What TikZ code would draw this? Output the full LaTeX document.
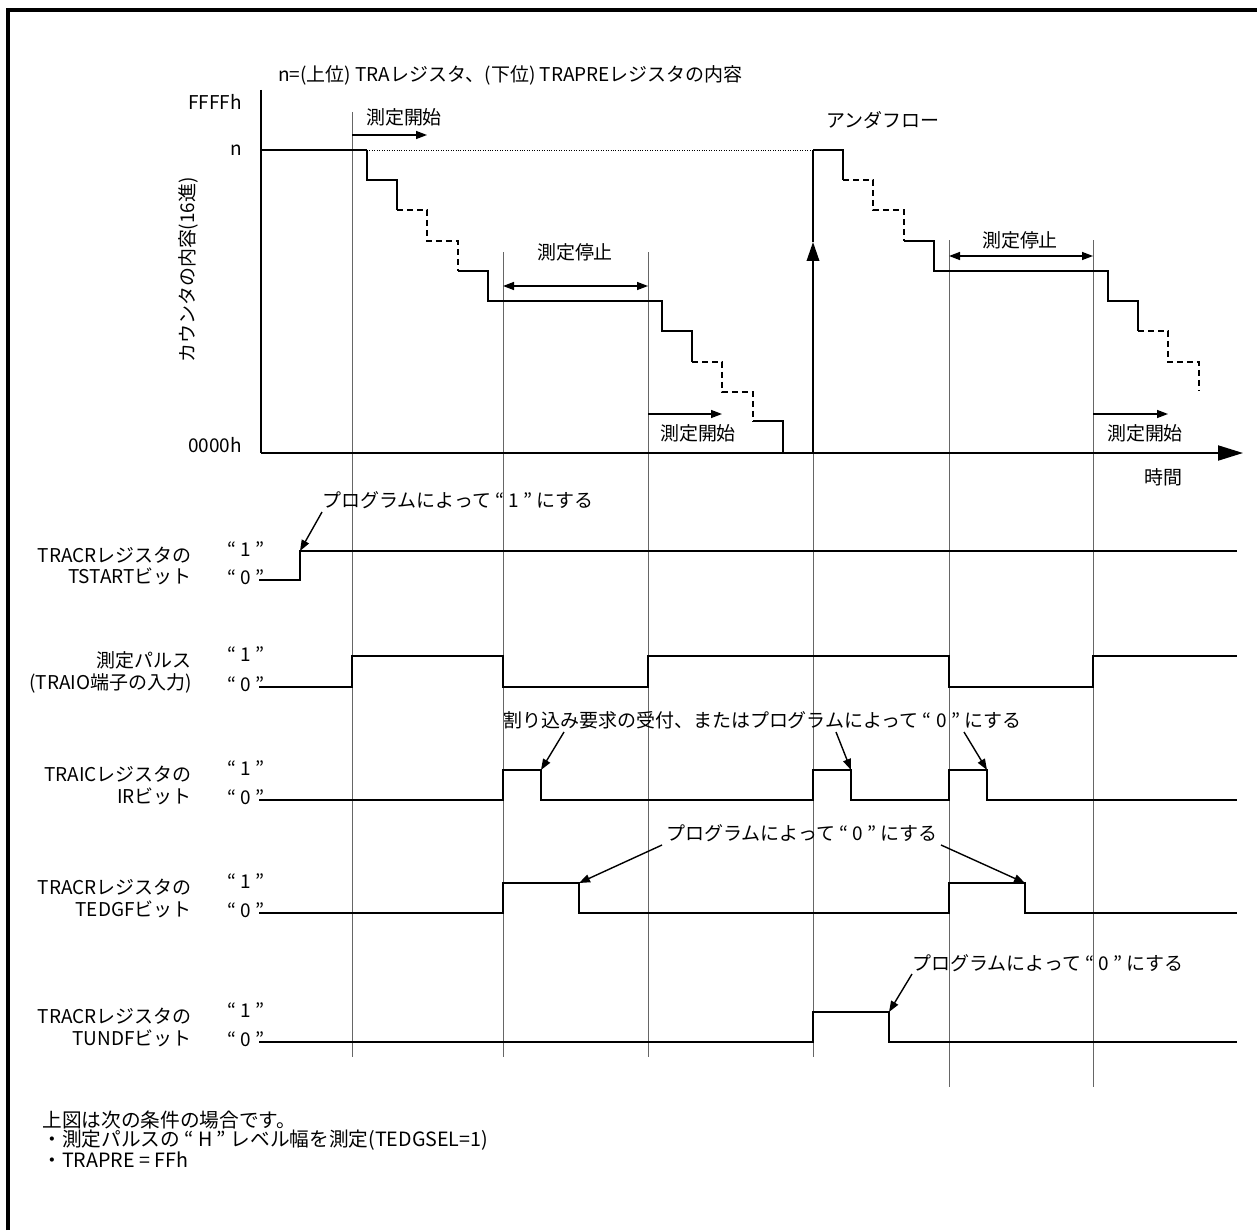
\documentclass[tikz,border=0pt]{standalone}
\usepackage{fontspec}
\setmainfont{Noto Sans CJK JP}
\usetikzlibrary{arrows.meta, calc}
\tikzset{
  lab/.style={inner sep=0pt, font=\fontsize{10.8}{13}\selectfont},
  nlab/.style={lab, anchor=west, font=\fontsize{11.2}{13}\selectfont},
  sig/.style={line width=1.1pt},
  dsig/.style={sig, dash pattern=on 1.2mm off 0.8mm},
  vln/.style={line width=0.55pt, black!60},
  ann/.style={-{Triangle[length=2.2mm, width=1.6mm]}, line width=0.8pt},
  msr/.style={-{Triangle[length=2.2mm, width=1.6mm]}, line width=0.8pt},
  msrb/.style={{Triangle[length=2.2mm, width=1.6mm]}-{Triangle[length=2.2mm, width=1.6mm]}, line width=0.8pt}
}
\newcommand{\lvls}[3]{\node[lab] (#1h) at (246,#2-2) {“ 1 ”}; \node[lab] (#1l) at (246,#3-3) {“ 0 ”};}
\newcommand{\rowlab}[5]{\node[lab, anchor=east] (#1a) at (192,#2+4) {#4}; \node[lab, anchor=east] (#1b) at (192,#3-4) {#5};}

\begin{document}
\begin{tikzpicture}[x=0.02cm, y=-0.02cm]
	\useasboundingbox (0,0) rectangle (1257,1230);
	\draw[line width=1.9pt] (8,1230) -- (8,10) -- (1257,10);

	\node[lab, anchor=west] (ttl) at (278,75) {n=(上位) TRAレジスタ、(下位) TRAPREレジスタの内容};
	\node[lab, anchor=east] (ffff) at (242,102) {FFFFh};
	\node[lab, anchor=east] (nval) at (242,150) {n};
	\node[lab, anchor=east] (zero) at (242,445) {0000h};
	\node[lab, rotate=90] (ylab) at (188,270) {カウンタの内容(16進)};
	\node[lab] (tm) at (1163,477) {時間};
	\node[lab] (unf) at (883,120) {アンダフロー};

	\foreach \x/\a/\b in {352/112/1057, 503/252/1057, 648/252/1057, 813/453/1057, 949/240/1087, 1093/240/1087}
		\draw[vln] (\x,\a) -- (\x,\b);

	\coordinate (org) at (261,453);
	\draw[sig] (261,90) -- (org);
	\draw[sig, -{Triangle[length=5mm, width=3mm]}] (org) -- (1243,453);

	\draw[sig] (261,150) -- (367,150);
	\draw[thin, densely dotted] (367,150) -- (813,150);
	\draw[sig] (367,150) -- (367,180) -- (397,180) -- (397,210);
	\draw[dsig] (397,210) -- (427,210) -- (427,241) -- (458,241) -- (458,271);
	\draw[sig] (458,271) -- (488,271) -- (488,301) -- (662,301) -- (662,331) -- (692,331) -- (692,362);
	\draw[dsig] (692,362) -- (722,362) -- (722,392) -- (753,392) -- (753,421);
	\draw[sig] (753,421) -- (783,421) -- (783,453);

	\draw[sig, -{Triangle[length=3.8mm, width=2.5mm]}] (813,453) -- (813,242);
	\draw[sig] (813,242) -- (813,150);
	\draw[sig] (813,150) -- (843,150) -- (843,180);
	\draw[dsig] (843,180) -- (873,180) -- (873,210) -- (904,210) -- (904,241);
	\draw[sig] (904,241) -- (934,241) -- (934,271) -- (1108,271) -- (1108,301) -- (1138,301) -- (1138,331);
	\draw[dsig] (1138,331) -- (1168,331) -- (1168,362) -- (1199,362) -- (1199,390);

	\node[lab] (ms1) at (404,117) {測定開始};
	\draw[msr] (352,135) -- (427,135);
	\node[lab] (mp1) at (575,252) {測定停止};
	\draw[msrb] (503,286) -- (648,286);
	\node[lab] (ms2) at (698,433) {測定開始};
	\draw[msr] (648,414) -- (722,414);
	\node[lab] (mp2) at (1020,240) {測定停止};
	\draw[msrb] (949,256) -- (1093,256);
	\node[lab] (ms3) at (1145,433) {測定開始};
	\draw[msr] (1093,414) -- (1168,414);

	\rowlab{ts}{551}{580}{TRACRレジスタの}{TSTARTビット}
	\lvls{ts}{551}{580}
	\rowlab{pl}{656}{687}{測定パルス}{(TRAIO端子の入力)}
	\lvls{pl}{656}{687}
	\rowlab{ir}{770}{800}{TRAICレジスタの}{IRビット}
	\lvls{ir}{770}{800}
	\rowlab{eg}{883}{913}{TRACRレジスタの}{TEDGFビット}
	\lvls{eg}{883}{913}
	\rowlab{un}{1012}{1042}{TRACRレジスタの}{TUNDFビット}
	\lvls{un}{1012}{1042}

	\draw[sig] (259,580) -- (300,580) -- (300,551) -- (1237,551);
	\draw[sig] (259,687) -- (352,687) -- (352,656) -- (503,656) -- (503,687) -- (648,687) -- (648,656) -- (949,656) -- (949,687) -- (1093,687) -- (1093,656) -- (1237,656);
	\draw[sig] (259,800) -- (503,800) -- (503,770) -- (541,770) -- (541,800) -- (813,800) -- (813,770) -- (851,770) -- (851,800) -- (949,800) -- (949,770) -- (987,770) -- (987,800) -- (1237,800);
	\draw[sig] (259,913) -- (503,913) -- (503,883) -- (579,883) -- (579,913) -- (949,913) -- (949,883) -- (1025,883) -- (1025,913) -- (1237,913);
	\draw[sig] (259,1042) -- (813,1042) -- (813,1012) -- (889,1012) -- (889,1042) -- (1237,1042);

	\coordinate (ts1) at (300,551);
	\coordinate (ir1) at (541,770);
	\coordinate (ir2) at (851,770);
	\coordinate (ir3) at (987,770);
	\coordinate (eg1) at (579,883);
	\coordinate (eg2) at (1025,883);
	\coordinate (un1) at (889,1012);

	\node[lab, anchor=west] (pa) at (322,500) {プログラムによって “ 1 ” にする};
	\node[lab, anchor=west] (pb) at (503,720) {割り込み要求の受付、またはプログラムによって “ 0 ” にする};
	\node[lab, anchor=west] (pc) at (666,833) {プログラムによって “ 0 ” にする};
	\node[lab, anchor=west] (pd) at (912,963) {プログラムによって “ 0 ” にする};
	\draw[ann] (322,512) -- (ts1);
	\draw[ann] (564,732) -- (ir1);
	\draw[ann] (836,732) -- (ir2);
	\draw[ann] (964,732) -- (ir3);
	\draw[ann] (662,845) -- (eg1);
	\draw[ann] (941,845) -- (eg2);
	\draw[ann] (912,974) -- (un1);

	\node[nlab] (nt1) at (42,1120) {上図は次の条件の場合です。};
	\node[nlab] (nt2) at (42,1140) {・測定パルスの “ H ” レベル幅を測定(TEDGSEL=1)};
	\node[nlab] (nt3) at (42,1160) {・TRAPRE = FFh};
\end{tikzpicture}
\end{document}
